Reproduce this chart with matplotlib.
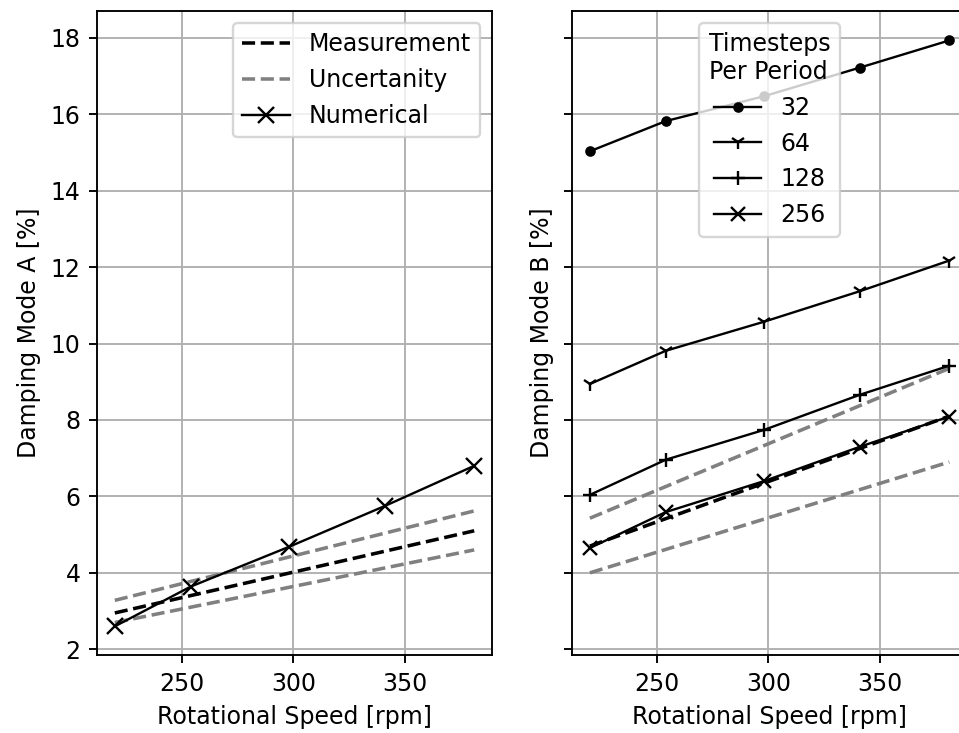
import numpy as np
import matplotlib
matplotlib.use('Agg')
import matplotlib.pyplot as plt

# rotational speeds [rpm]
rpm = [220, 254, 298, 341, 381]

# mode A
meas_a = [2.95, 5.1]
unc_a_hi = [3.28, 5.62]
unc_a_lo = [2.7, 4.6]
num_a = [2.6, 3.64, 4.68, 5.75, 6.8]

# mode B
meas_b = [4.7, 8.1]
unc_b_hi = [5.43, 9.35]
unc_b_lo = [4.0, 6.9]
steps = ['32', '64', '128', '256']
num_b = [
    [15.03, 15.82, 16.47, 17.22, 17.93],
    [8.94, 9.81, 10.57, 11.37, 12.17],
    [6.04, 6.96, 7.74, 8.66, 9.42],
    [4.65, 5.59, 6.4, 7.3, 8.09],
]
markers = ['.', '1', '+', 'x']
msizes = [7, 6, 6, 6]

ends = [rpm[0], rpm[-1]]

DPI = 170
fig = plt.figure(figsize=(959 / DPI, 733 / DPI), dpi=DPI)
ax1 = fig.add_axes([0.1011, 0.1064, 0.412, 0.8786])
ax2 = fig.add_axes([0.5965, 0.1064, 0.412, 0.8786], sharey=ax1)

ax1.plot(ends, meas_a, '--', color='black', lw=1.5, label='Measurement')
ax1.plot(ends, unc_a_hi, '--', color='grey', lw=1.5, label='Uncertanity')
ax1.plot(ends, unc_a_lo, '--', color='grey', lw=1.5)
ax1.plot(rpm, num_a, '-x', color='black', lw=1, ms=7, label='Numerical')
ax1.grid(True)
ax1.set_xlabel('Rotational Speed [rpm]')
ax1.set_ylabel('Damping Mode A [%]')
ax1.legend(loc='upper right')

ax2.plot(ends, meas_b, '--', color='black', lw=1.5)
ax2.plot(ends, unc_b_hi, '--', color='grey', lw=1.5)
ax2.plot(ends, unc_b_lo, '--', color='grey', lw=1.5)
for vals, lab, m, s in zip(num_b, steps, markers, msizes):
    ax2.plot(rpm, vals, '-', marker=m, color='black', lw=1, ms=s, label=lab)
ax2.grid(True)
ax2.set_xlabel('Rotational Speed [rpm]')
ax2.set_ylabel('Damping Mode B [%]')
ax2.tick_params(labelleft=False)
ax2.legend(loc='upper center', title='Timesteps\nPer Period')

for ax in (ax1, ax2):
    ax.set_xticks([250, 300, 350])
    ax.set_xlim(212, 389)
ax1.set_ylim(1.85, 18.7)
ax1.set_yticks(np.arange(2, 19, 2))

fig.savefig('out.png', dpi=DPI)
